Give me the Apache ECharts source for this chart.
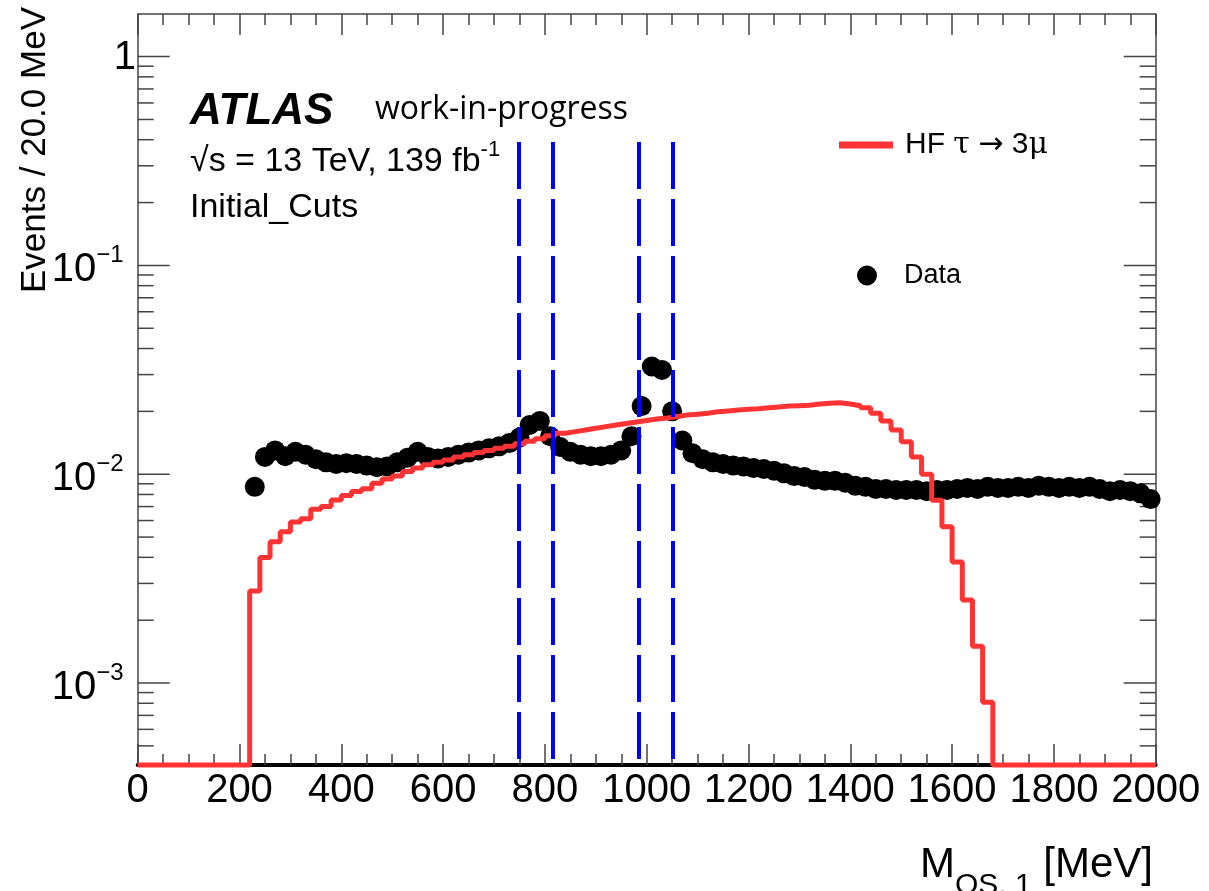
<!DOCTYPE html>
<html>
<head>
<meta charset="utf-8">
<script src="https://cdn.jsdelivr.net/npm/echarts@6/dist/echarts.min.js"></script>
<style>
html,body{margin:0;padding:0;background:#ffffff;}
#chart{width:1209px;height:891px;}
</style>
</head>
<body>
<div id="chart"></div>
<script>
// ---------------- data ----------------
// Data points: bin centres (MeV) and events per 20 MeV
const dataMass = [230,250,270,290,310,330,350,370,390,410,430,450,470,490,510,530,550,570,590,610,
  630,650,670,690,710,730,750,770,790,810,830,850,870,890,910,930,950,970,990,1010,
  1030,1050,1070,1090,1110,1130,1150,1170,1190,1210,1230,1250,1270,1290,1310,1330,1350,1370,1390,1410,
  1430,1450,1470,1490,1510,1530,1550,1570,1590,1610,1630,1650,1670,1690,1710,1730,1750,1770,1790,1810,
  1830,1850,1870,1890,1910,1930,1950,1970,1990];
const dataEvents = [0.0087,0.0121,0.0130,0.0122,0.0128,0.0124,0.0118,0.0114,0.0112,0.0113,
  0.0112,0.0110,0.0108,0.0109,0.0114,0.0120,0.0128,0.0121,0.0119,0.0121,
  0.0124,0.0127,0.0130,0.0133,0.0136,0.0141,0.0150,0.0172,0.0180,0.0152,
  0.0135,0.0128,0.0124,0.0122,0.0122,0.0124,0.0130,0.0152,0.0212,0.0328,
  0.0316,0.0200,0.0145,0.0126,0.0118,0.0114,0.0112,0.0110,0.0109,0.0107,
  0.0106,0.0104,0.0101,0.0098,0.0097,0.0094,0.0093,0.0093,0.0091,0.0088,
  0.0087,0.0085,0.0085,0.0084,0.0084,0.0084,0.0083,0.0084,0.0084,0.0085,
  0.0086,0.0085,0.0087,0.0086,0.0086,0.0087,0.0086,0.0088,0.0087,0.0086,
  0.0087,0.0086,0.0087,0.0085,0.0083,0.0084,0.0083,0.0081,0.0076];

// Signal histogram (HF tau -> 3mu): lower bin edges (MeV) and contents; empty elsewhere
const sigLowEdges = [220,240,260,280,300,320,340,360,380,400,420,440,460,480,500,520,540,560,580,600,
  620,640,660,680,700,720,740,760,780,800,820,840,860,880,900,920,940,960,980,1000,
  1020,1040,1060,1080,1100,1120,1140,1160,1180,1200,1220,1240,1260,1280,1300,1320,1340,1360,1380,1400,
  1420,1440,1460,1480,1500,1520,1540,1560,1580,1600,1620,1640,1660];
const sigHighEdge = 1680;
const sigEvents = [0.00276,0.00399,0.00475,0.00530,0.00590,0.00612,0.00680,0.00700,0.00752,0.00790,
  0.00826,0.00851,0.00905,0.00950,0.00982,0.0103,0.0107,0.0111,0.0114,0.0117,
  0.0121,0.0124,0.0127,0.0130,0.0133,0.0136,0.0140,0.0144,0.0148,0.0153,
  0.0157,0.0160,0.0163,0.0166,0.0169,0.0172,0.0175,0.0178,0.0181,0.0184,
  0.0186,0.0189,0.0192,0.0194,0.0196,0.0199,0.0201,0.0203,0.0205,0.0206,
  0.0208,0.0210,0.0212,0.0213,0.0214,0.0217,0.0219,0.0220,0.0217,0.0213,
  0.0208,0.0196,0.0180,0.0163,0.0143,0.0121,0.0100,0.0075,0.0056,0.0038,
  0.0025,0.0015,0.00081];

// Mass window edges (blue dashed lines), MeV, and the height they reach
const windowEdges = [748, 815, 984, 1051];
const windowTop = 0.39;

// Axis ranges and ticks
const X_MIN = 0, X_MAX = 2000, X_STEP = 200;
const Y_MIN = 4.05e-4, Y_MAX = 1.6;
const yDecades = [0.0001, 0.001, 0.01, 0.1, 1];
const yMinorMultipliers = [2, 3, 4, 5, 6, 7, 8, 9];

// ---------------- chart ----------------
const FONT = '"Liberation Sans", Arial, Helvetica, sans-serif';
const SYM = '"DejaVu Serif", serif';
const FRAME = '#444444';
const RED = '#ff3333';
const BLUE = '#0000ff';
const SIG_NAME = 'HF \u03c4 \u2192 3\u03bc';

const sigLine = [[X_MIN, Y_MIN]];
sigLowEdges.forEach((e, i) => sigLine.push([e, sigEvents[i]]));
sigLine.push([sigHighEdge, Y_MIN]);
sigLine.push([X_MAX, Y_MIN]);

const dataPts = dataMass.map((m, i) => [m, dataEvents[i]]);

const yTickData = [];
yDecades.forEach(d => {
  if (d >= Y_MIN && d <= Y_MAX) yTickData.push([X_MIN, d, 32]);
  yMinorMultipliers.forEach(k => {
    const v = d * k;
    if (v > Y_MIN && v < Y_MAX) yTickData.push([X_MIN, v, 16]);
  });
});

function yLabel(v) {
  const lg = Math.log10(v);
  const e = Math.round(lg);
  if (Math.abs(lg - e) > 1e-6) return '';
  if (e === 0) return '{c|1}';
  return '{b|10}{s|' + (e < 0 ? '\u2212' : '') + Math.abs(e) + '}';
}

const chart = echarts.init(document.getElementById('chart'), null, {renderer: 'canvas'});
const option = {
  animation: false,
  backgroundColor: '#ffffff',
  grid: {left: 137.7, right: 53.3, top: 14, bottom: 126, containLabel: false},
  xAxis: [{
    type: 'value', min: X_MIN, max: X_MAX, interval: X_STEP, position: 'bottom',
    axisLine: {show: true, onZero: false, lineStyle: {color: '#000000', width: 4}},
    axisTick: {show: true, inside: true, length: 21, lineStyle: {color: FRAME, width: 1.5}},
    minorTick: {show: true, splitNumber: 4, length: 11, lineStyle: {color: FRAME, width: 1.5}},
    axisLabel: {show: true, margin: 6, fontSize: 40, fontFamily: FONT, color: '#000000',
      formatter: v => String(v)},
    splitLine: {show: false}, minorSplitLine: {show: false}
  }, {
    type: 'value', min: X_MIN, max: X_MAX, interval: X_STEP, position: 'top',
    axisLine: {show: true, onZero: false, lineStyle: {color: FRAME, width: 1.5}},
    axisTick: {show: true, inside: true, length: 21, lineStyle: {color: FRAME, width: 1.5}},
    minorTick: {show: true, splitNumber: 4, length: 11, lineStyle: {color: FRAME, width: 1.5}},
    axisLabel: {show: false},
    splitLine: {show: false}, minorSplitLine: {show: false}
  }],
  yAxis: [{
    type: 'log', logBase: 10, min: Y_MIN, max: Y_MAX, position: 'left',
    axisLine: {show: true, onZero: false, lineStyle: {color: FRAME, width: 1.5}},
    axisTick: {show: false}, minorTick: {show: false},
    splitLine: {show: false}, minorSplitLine: {show: false},
    axisLabel: {
      show: true, margin: 14, formatter: yLabel, padding: [3, 0, 0, 0],
      rich: {
        b: {fontSize: 40, fontFamily: FONT, color: '#000000', lineHeight: 47, verticalAlign: 'top', padding: [7, 0, 0, 0]},
        s: {fontSize: 24, fontFamily: FONT, color: '#000000', lineHeight: 12, verticalAlign: 'top'},
        c: {fontSize: 40, fontFamily: FONT, color: '#000000', lineHeight: 40, verticalAlign: 'top', width: 10, align: 'left'}
      }
    }
  }, {
    type: 'log', logBase: 10, min: Y_MIN, max: Y_MAX, position: 'right',
    axisLine: {show: true, onZero: false, lineStyle: {color: FRAME, width: 1.5}},
    axisTick: {show: false}, minorTick: {show: false}, axisLabel: {show: false},
    splitLine: {show: false}, minorSplitLine: {show: false}
  }],
  legend: [{
    data: [{name: SIG_NAME, icon: 'rect'}],
    left: 839, top: 130, itemWidth: 54, itemHeight: 7, padding: 0, itemGap: 0,
    selectedMode: false,
    formatter: () => '{t|HF }{g|\u03c4}{t| }{a|\u2192}{t| 3}{g|\u03bc}',
    textStyle: {fontSize: 30, fontFamily: FONT, color: '#000000', padding: [0, 0, 0, 7],
      rich: {
        t: {fontSize: 30, fontFamily: FONT, color: '#000000'},
        g: {fontSize: 30, fontFamily: SYM, color: '#000000'},
        a: {fontSize: 30, fontFamily: '"DejaVu Sans", sans-serif', color: '#000000'}
      }}
  }, {
    data: [{name: 'Data', icon: 'circle'}],
    left: 857, top: 262, itemWidth: 54, itemHeight: 20, padding: 0, itemGap: 0,
    selectedMode: false,
    textStyle: {fontSize: 27, fontFamily: FONT, color: '#000000', padding: [0, 0, 0, 5]}
  }],
  graphic: [
    {type: 'text', x: 190, y: 112, style: {text: 'ATLAS', fontSize: 44, fontWeight: 'bold', fontStyle: 'italic',
      fontFamily: FONT, fill: '#000000', align: 'left', verticalAlign: 'middle'}},
    {type: 'text', x: 375, y: 110, style: {text: 'work-in-progress', fontSize: 32,
      fontFamily: '"Open Sans", sans-serif', fill: '#000000', align: 'left', verticalAlign: 'middle'}},
    {type: 'text', x: 190, y: 139, style: {
      text: '{a|\u221as = 13 TeV, 139 fb}{s|-1}', align: 'left', verticalAlign: 'top',
      rich: {
        a: {fontSize: 34, fontFamily: FONT, fill: '#000000', lineHeight: 40, verticalAlign: 'top', padding: [6, 0, 0, 0]},
        s: {fontSize: 22, fontFamily: FONT, fill: '#000000', lineHeight: 22, verticalAlign: 'top'}
      }}},
    {type: 'text', x: 190, y: 208, style: {text: 'Initial_Cuts', fontSize: 34,
      fontFamily: FONT, fill: '#000000', align: 'left', verticalAlign: 'middle'}},
    {type: 'text', x: 35, y: 293, rotation: Math.PI / 2, style: {text: 'Events / 20.0 MeV', fontSize: 35,
      fontFamily: FONT, fill: '#000000', align: 'left', verticalAlign: 'middle'}},
    {type: 'text', x: 1153, y: 844, style: {
      text: '{m|M}{u|OS, 1}{m| [MeV]}', align: 'right', verticalAlign: 'top',
      rich: {
        m: {fontSize: 42, fontFamily: FONT, fill: '#000000', lineHeight: 42, verticalAlign: 'top'},
        u: {fontSize: 30, fontFamily: FONT, fill: '#000000', lineHeight: 72, verticalAlign: 'top', padding: [27, 0, 0, 0]}
      }}}
  ],
  series: [{
    name: 'yticks', type: 'custom', xAxisIndex: 0, yAxisIndex: 0, silent: true, z: 1,
    data: yTickData,
    renderItem: function (params, api) {
      const v = api.value(1), len = api.value(2);
      const pL = api.coord([X_MIN, v]);
      const pR = api.coord([X_MAX, v]);
      return {type: 'group', children: [
        {type: 'line', shape: {x1: pL[0], y1: pL[1], x2: pL[0] + len, y2: pL[1]}, style: {stroke: FRAME, lineWidth: 1.5}},
        {type: 'line', shape: {x1: pR[0], y1: pR[1], x2: pR[0] - len, y2: pR[1]}, style: {stroke: FRAME, lineWidth: 1.5}}
      ]};
    }
  }, {
    name: 'Data', type: 'scatter', xAxisIndex: 0, yAxisIndex: 0, z: 2,
    data: dataPts, symbol: 'circle', symbolSize: 20,
    itemStyle: {color: '#000000', opacity: 1}, silent: true
  }, {
    name: SIG_NAME, type: 'line', xAxisIndex: 0, yAxisIndex: 0, z: 3,
    step: 'end', data: sigLine, showSymbol: false, symbol: 'none', clip: false,
    itemStyle: {color: RED}, lineStyle: {color: RED, width: 5}, silent: true
  }, {
    name: 'windows', type: 'line', xAxisIndex: 0, yAxisIndex: 0, z: 4, data: [],
    markLine: {
      silent: true, symbol: 'none', animation: false,
      label: {show: false},
      lineStyle: {color: BLUE, width: 4, type: [47, 10]},
      data: windowEdges.map(x => [{coord: [x, windowTop]}, {coord: [x, Y_MIN]}])
    }
  }]
};
chart.setOption(option);
</script>
</body>
</html>
